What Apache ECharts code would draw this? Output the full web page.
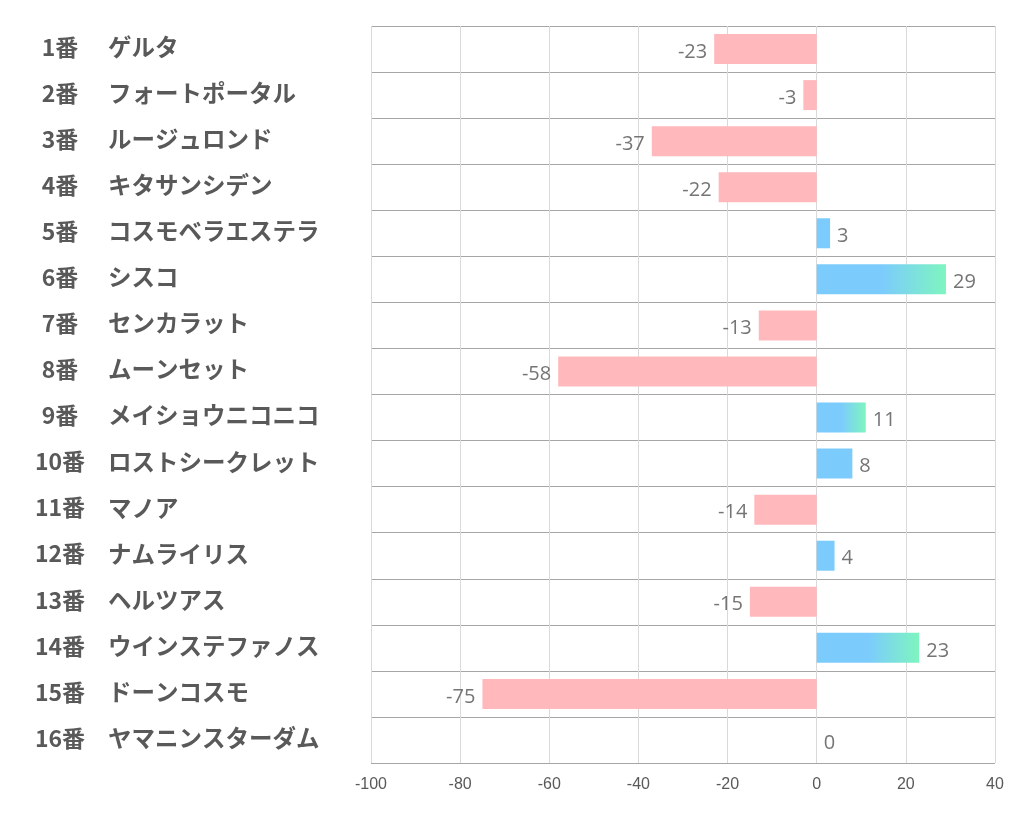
<!DOCTYPE html>
<html>
<head>
<meta charset="utf-8">
<script src="https://cdn.jsdelivr.net/npm/echarts@6/dist/echarts.min.js"></script>
<style>html,body{margin:0;padding:0;background:#fff;}#c{width:1022px;height:834px;}</style>
</head>
<body>
<div id="c"></div>
<script>
const numbers = ['1番','2番','3番','4番','5番','6番','7番','8番','9番','10番','11番','12番','13番','14番','15番','16番'];
const names = ['ゲルタ','フォートポータル','ルージュロンド','キタサンシデン','コスモベラエステラ','シスコ','センカラット','ムーンセット','メイショウニコニコ','ロストシークレット','マノア','ナムライリス','ヘルツアス','ウインステファノス','ドーンコスモ','ヤマニンスターダム'];
const values = [-23,-3,-37,-22,3,29,-13,-58,11,8,-14,4,-15,23,-75,0];
const xTicks = [-100,-80,-60,-40,-20,0,20,40];

const PINK = '#FFB9BC', BLUE = '#7CCBFD', GREEN = '#7EF5BF';
const gradient = new echarts.graphic.LinearGradient(0,0,1,0,[
  {offset:0,color:BLUE},{offset:0.5,color:BLUE},{offset:1,color:GREEN}]);

const chart = echarts.init(document.getElementById('c'), null, {renderer:'canvas'});
chart.setOption({
  animation:false,
  backgroundColor:'#fff',
  grid:{left:371,right:27,top:26,bottom:71,containLabel:false},
  xAxis:{
    type:'value', min:xTicks[0], max:xTicks[xTicks.length-1], interval:20,
    axisLine:{show:false}, axisTick:{show:false},
    splitLine:{show:true,lineStyle:{color:'#d9d9d9',width:1}},
    axisLabel:{color:'#595959',fontSize:16,fontFamily:'"Liberation Sans Narrow","Liberation Sans",sans-serif',margin:14}
  },
  yAxis:{
    type:'category', inverse:true,
    data: numbers.map((n,i)=>n+'|'+names[i]),
    axisLine:{show:false}, axisTick:{show:false},
    splitLine:{show:true,interval:0,lineStyle:{color:'#a6a6a6',width:1}},
    axisLabel:{
      interval:0, align:'left', margin:336,
      formatter:(v)=>{const p=v.split('|');return '{n|'+p[0]+'}{s|'+p[1]+'}';},
      rich:{
        n:{width:50,align:'right',fontSize:23,fontWeight:'bold',color:'#595959',padding:[0,0,4,0],fontFamily:'"Noto Sans CJK JP",sans-serif'},
        s:{padding:[0,0,4,23],fontSize:23.5,fontWeight:'bold',color:'#595959',fontFamily:'"Noto Sans CJK JP",sans-serif'}
      }
    }
  },
  series:[{
    type:'bar', barWidth:30,
    data: values.map(v=>({
      value:v,
      itemStyle:{color: v<0 ? PINK : (v>=10 ? gradient : BLUE)},
      label:{position: v<0 ? 'left' : 'right'}
    })),
    label:{show:true,distance:7,offset:[0,3],color:'#757575',fontSize:20,fontFamily:'"Open Sans",sans-serif'}
  }]
});
</script>
</body>
</html>
